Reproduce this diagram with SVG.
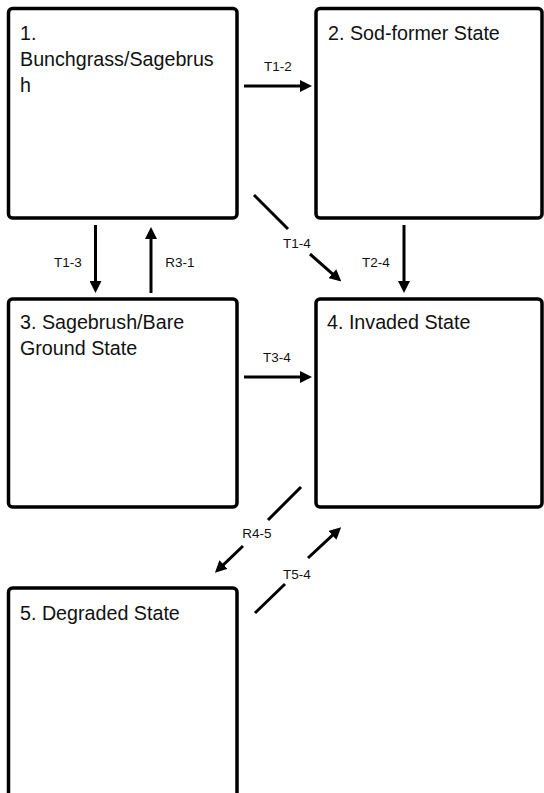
<svg xmlns="http://www.w3.org/2000/svg" width="544" height="793" viewBox="0 0 544 793">
  <style>
    .box { fill: #ffffff; stroke: #000000; stroke-width: 3.5; }
    .title { font-family: "Liberation Sans", Arial, sans-serif; font-size: 19.7px; fill: #111111; }
    .lbl { font-family: "Liberation Sans", Arial, sans-serif; font-size: 13.5px; fill: #111111; text-anchor: middle; }
    .conn { fill: none; stroke: #000000; stroke-width: 3; marker-end: url(#arrow); }
  </style>
  <defs>
    <marker id="arrow" markerUnits="userSpaceOnUse" viewBox="0 0 12 12" markerWidth="12" markerHeight="12" refX="4" refY="6" orient="auto">
      <path d="M0,0 L12,6 L0,12 z" fill="#000000"/>
    </marker>
  </defs>
  <rect width="544" height="793" fill="#ffffff"/>

  <g id="node1">
    <rect class="box" x="8.5" y="8.5" width="228.5" height="209.5" rx="4"/>
    <text class="title" x="20" y="40">1.</text>
    <text class="title" x="20" y="66">Bunchgrass/Sagebrus</text>
    <text class="title" x="20" y="92">h</text>
  </g>
  <g id="node2">
    <rect class="box" x="316" y="8.5" width="226" height="209.5" rx="4"/>
    <text class="title" x="328" y="40">2. Sod-former State</text>
  </g>
  <g id="node3">
    <rect class="box" x="8.5" y="299" width="228.5" height="208" rx="4"/>
    <text class="title" x="20" y="329">3. Sagebrush/Bare</text>
    <text class="title" x="20" y="355">Ground State</text>
  </g>
  <g id="node4">
    <rect class="box" x="316" y="299" width="226" height="208" rx="4"/>
    <text class="title" x="327" y="329">4. Invaded State</text>
  </g>
  <g id="node5">
    <rect class="box" x="8.5" y="588" width="228.5" height="240" rx="4"/>
    <text class="title" x="20" y="620">5. Degraded State</text>
  </g>

  <g id="connectors">
    <path class="conn" d="M244 86 L304 86"/>
    <text class="lbl" x="278" y="71">T1-2</text>

    <path class="conn" d="M95.5 225 L95.5 285"/>
    <text class="lbl" x="68" y="267">T1-3</text>

    <path class="conn" d="M151 293 L151 235"/>
    <text class="lbl" x="180" y="267">R3-1</text>

    <path class="conn" d="M254 195 L288 229 M310 254 L335.3 276.3"/>
    <text class="lbl" x="297" y="248">T1-4</text>

    <path class="conn" d="M404 225 L404 285"/>
    <text class="lbl" x="376" y="267">T2-4</text>

    <path class="conn" d="M244 377 L304 377"/>
    <text class="lbl" x="277" y="362">T3-4</text>

    <path class="conn" d="M301 487 L268 520 M243 546 L220.7 567.3"/>
    <text class="lbl" x="257" y="538">R4-5</text>

    <path class="conn" d="M255 613 L285 584 M308 558 L335.3 532.7"/>
    <text class="lbl" x="297" y="579">T5-4</text>
  </g>
</svg>
